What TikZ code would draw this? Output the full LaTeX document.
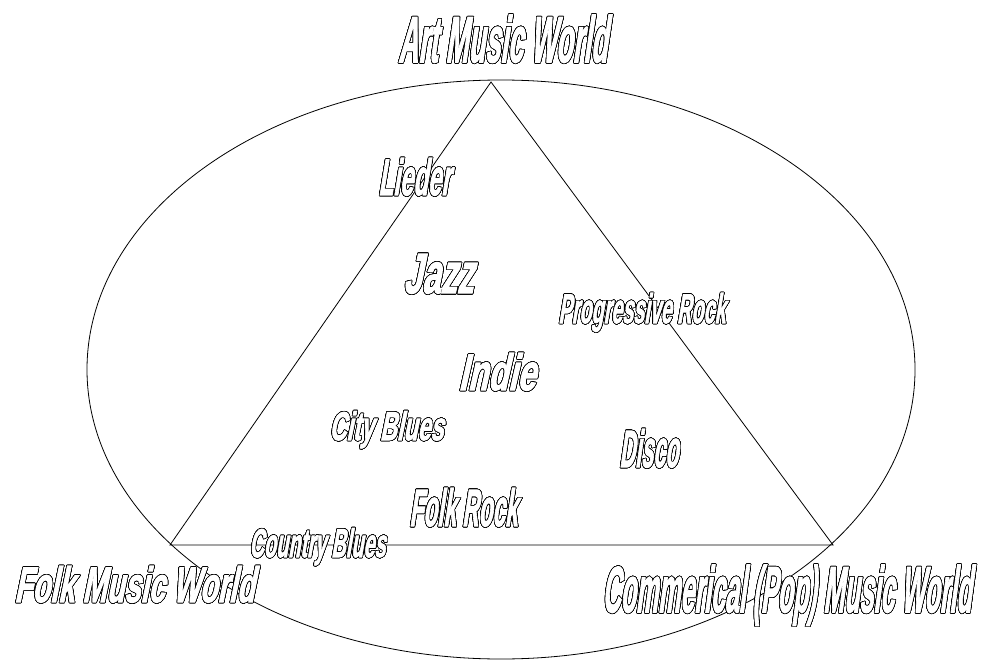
\documentclass[tikz,border=0pt]{standalone}
\usepackage{fontspec}
\usepackage{graphicx}
\usepackage{contour}
\newfontfamily\genrefont[FakeSlant=0.35,FakeBold=2.5]{Liberation Sans}
\contourlength{0.6pt}
\contournumber{32}
% outlined label squeezed into a box of given width and height
\newcommand{\outl}[3]{\contour{black}{\resizebox{#1}{#2}{#3}}}
\tikzset{
  genre/.style={inner sep=0pt, anchor=base west, text=white, font=\genrefont\bfseries},
}

\begin{document}
\begin{tikzpicture}[x=1pt,y=-1pt,line width=0.8pt]
\useasboundingbox (0,0) rectangle (981,660);
\draw (501,369.5) ellipse [x radius=414, y radius=289.5];

\coordinate (art) at (491,82);
\coordinate (folk) at (170,545);
\coordinate (pop) at (833,545);
\draw (art) -- (folk) -- (pop) -- cycle;

\node[genre] (artw) at (398,62) {\outl{209pt}{47pt}{Art Music World}};
\node[genre] (folkw) at (14,602) {\outl{240pt}{36pt}{Folk Music World}};
\node[genre] (popw) at (602,612) {\outl{369pt}{47pt}{Commerical (Pop) Music World}};

\node[genre] (lieder) at (378,195) {\outl{72pt}{37pt}{Lieder}};
\node[genre] (jazz) at (403,293) {\outl{70pt}{39pt}{Jazz}};
\node[genre] (progrock) at (558,323) {\outl{167pt}{30pt}{Progressive Rock}};
\node[genre] (indie) at (458,390) {\outl{77pt}{37pt}{Indie}};
\node[genre] (cityblues) at (329,440) {\outl{114pt}{29pt}{City Blues}};
\node[genre] (disco) at (619,467) {\outl{59pt}{38pt}{Disco}};
\node[genre] (folkrock) at (409,526) {\outl{108pt}{38pt}{Folk Rock}};
\node[genre] (countryblues) at (249,557) {\outl{136pt}{29pt}{Country Blues}};
\end{tikzpicture}
\end{document}
